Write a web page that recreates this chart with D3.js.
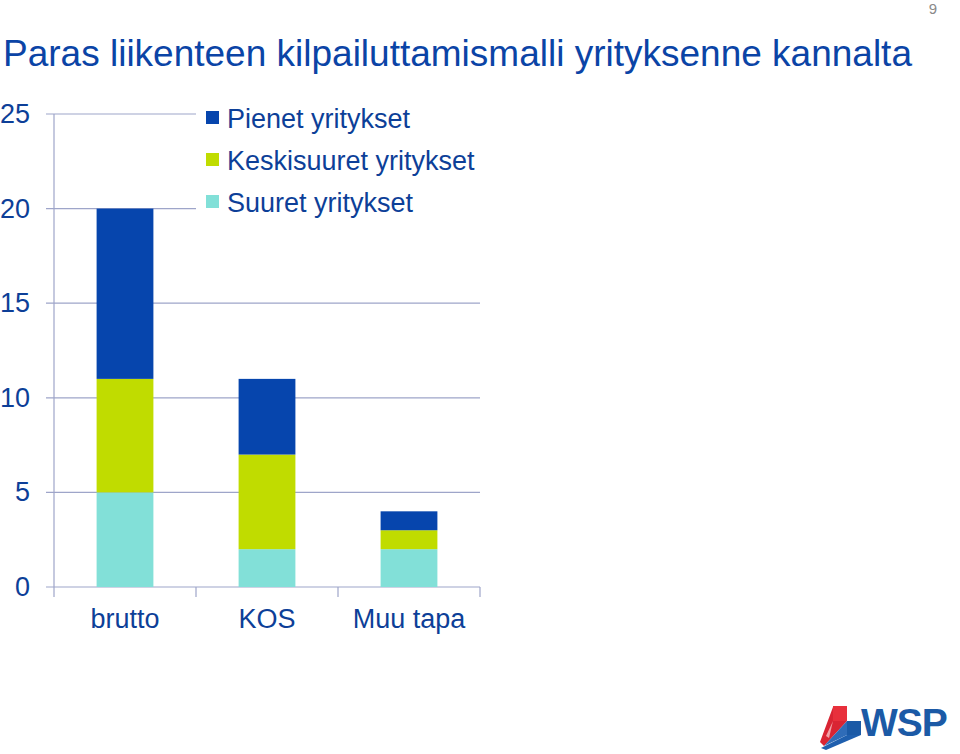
<!DOCTYPE html>
<html><head><meta charset="utf-8">
<script src="https://cdn.jsdelivr.net/npm/d3@7"></script>
<style>body{margin:0;background:#fff}svg{display:block;font-family:"Liberation Sans",Arial,sans-serif}</style>
</head><body>
<svg id="c" width="960" height="754"></svg>
<script>
const categories = ["brutto", "KOS", "Muu tapa"];
const seriesNames = ["Suuret yritykset", "Keskisuuret yritykset", "Pienet yritykset"];
const suuret = [5, 2, 2];
const keskisuuret = [6, 5, 1];
const pienet = [9, 4, 1];
const yTicks = [0, 5, 10, 15, 20, 25];
const colors = {"Pienet yritykset": "#0645ad", "Keskisuuret yritykset": "#c0dc00", "Suuret yritykset": "#82e0d8"};
const legendOrder = ["Pienet yritykset", "Keskisuuret yritykset", "Suuret yritykset"];

const svg = d3.select("#c");
const textColor = "#0d3f98";
const gridColor = "#9ea5c9";

svg.append("text").attr("x", 3).attr("y", 66).attr("font-size", 37).attr("fill", "#0b44a6")
  .text("Paras liikenteen kilpailuttamismalli yrityksenne kannalta");
svg.append("text").attr("x", 933).attr("y", 14).attr("font-size", 15).attr("fill", "#8a8a8a")
  .attr("text-anchor", "middle").text("9");

const x = d3.scaleBand().domain(categories).range([54, 480]).paddingInner(0.6).paddingOuter(0.3);
const y = d3.scaleLinear().domain([0, 25]).range([587, 114]);

const data = categories.map((c, i) => ({cat: c, "Suuret yritykset": suuret[i], "Keskisuuret yritykset": keskisuuret[i], "Pienet yritykset": pienet[i]}));
const stack = d3.stack().keys(seriesNames)(data);

const g = svg.append("g");
yTicks.filter(t => t > 0).forEach(t => {
  const x2 = t >= 20 ? 196 : 480;
  g.append("line").attr("x1", 46).attr("x2", x2).attr("y1", y(t)).attr("y2", y(t))
    .attr("stroke", gridColor).attr("stroke-width", 1.2);
});
g.append("line").attr("x1", 54).attr("x2", 54).attr("y1", y(25)).attr("y2", y(0)).attr("stroke", gridColor).attr("stroke-width", 1.2);
g.append("line").attr("x1", 46).attr("x2", 480).attr("y1", y(0)).attr("y2", y(0)).attr("stroke", gridColor).attr("stroke-width", 1.2);
const bounds = [54, 54 + (480 - 54) / 3, 54 + 2 * (480 - 54) / 3, 480];
bounds.forEach(b => g.append("line").attr("x1", b).attr("x2", b).attr("y1", y(0)).attr("y2", y(0) + 10).attr("stroke", gridColor).attr("stroke-width", 1.2));

svg.append("g").selectAll("g").data(stack).join("g").attr("fill", d => colors[d.key])
  .selectAll("rect").data(d => d).join("rect")
  .attr("x", d => x(d.data.cat)).attr("width", x.bandwidth())
  .attr("y", d => y(d[1])).attr("height", d => y(d[0]) - y(d[1]));

svg.append("g").selectAll("text").data(yTicks).join("text")
  .attr("x", 30).attr("y", d => y(d) + 9).attr("text-anchor", "end")
  .attr("font-size", 27).attr("fill", textColor).text(d => d);

svg.append("g").selectAll("text").data(categories).join("text")
  .attr("x", d => x(d) + x.bandwidth() / 2).attr("y", 628).attr("text-anchor", "middle")
  .attr("font-size", 27).attr("fill", textColor).text(d => d);

const lg = svg.append("g");
legendOrder.forEach((k, i) => {
  const cy = 118 + i * 42;
  lg.append("rect").attr("x", 206).attr("y", cy - 7).attr("width", 13).attr("height", 13).attr("fill", colors[k]);
  lg.append("text").attr("x", 227).attr("y", cy + 10).attr("font-size", 27).attr("fill", textColor).text(k);
});

// WSP logo
const logo = svg.append("g");
logo.append("path").attr("d", "M833,707 L820,742 L824,746 L847,721 L833,721 Z").attr("fill", "#d92433");
logo.append("path").attr("d", "M833,721 L826,736 L829,738 Z").attr("fill", "#f2a0a6");
logo.append("rect").attr("x", 833).attr("y", 706).attr("width", 14).attr("height", 15).attr("fill", "#e8303c");
logo.append("path").attr("d", "M847,735 L861,735 L826,750 L821,748 Z").attr("fill", "#1f5fae");
logo.append("path").attr("d", "M847,721 L847,735 L824,746 Z").attr("fill", "#2f6cb8");
logo.append("rect").attr("x", 847).attr("y", 721).attr("width", 14).attr("height", 14).attr("fill", "#1b5aa6");
logo.append("text").attr("x", 861).attr("y", 736).attr("font-size", 39).attr("font-weight", "bold")
  .attr("fill", "#1b5aa6").attr("letter-spacing", -1).text("WSP");
</script>
</body></html>
